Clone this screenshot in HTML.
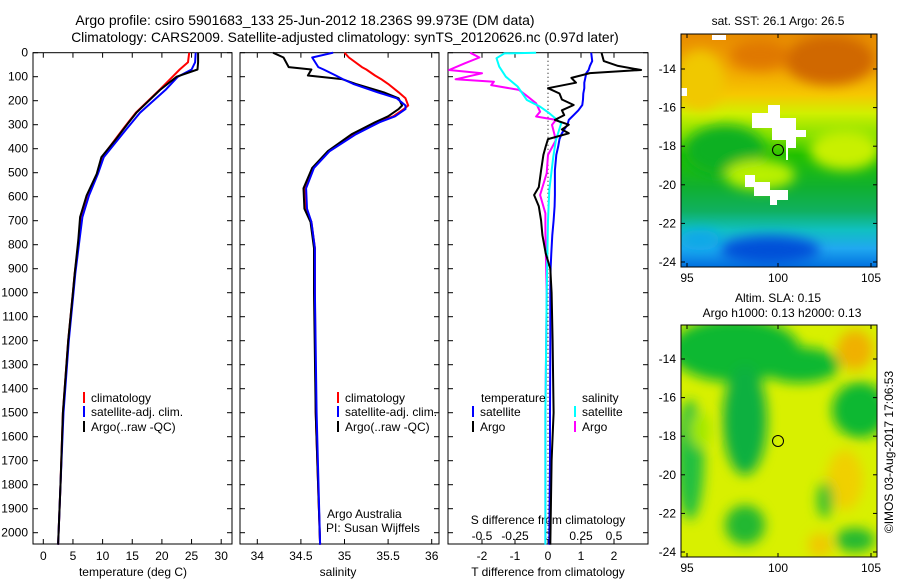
<!DOCTYPE html>
<html><head><meta charset="utf-8"><style>
html,body{margin:0;padding:0;background:#fff}
svg{display:block;font-family:"Liberation Sans",sans-serif;font-size:12px}
</style></head><body>
<svg id="fig" width="900" height="580" viewBox="0 0 900 580">
<defs>
<filter id="blur4" x="-20%" y="-20%" width="140%" height="140%"><feGaussianBlur stdDeviation="6"/></filter>
<clipPath id="c1"><rect x="681" y="34" width="196" height="233"/></clipPath>
<clipPath id="c2"><rect x="681" y="325" width="196" height="232"/></clipPath>
<linearGradient id="sstg" x1="0" y1="0" x2="0" y2="1">
<stop offset="0" stop-color="#e88c00"/><stop offset="0.14" stop-color="#f0a000"/>
<stop offset="0.26" stop-color="#f6c800"/><stop offset="0.34" stop-color="#d0f000"/>
<stop offset="0.44" stop-color="#80e000"/><stop offset="0.52" stop-color="#20c000"/>
<stop offset="0.66" stop-color="#10b030"/><stop offset="0.76" stop-color="#10b060"/>
<stop offset="0.84" stop-color="#10c0c0"/><stop offset="0.92" stop-color="#20a8f0"/>
<stop offset="1" stop-color="#0070e0"/></linearGradient>
</defs>
<g id="titles">
<text x="305" y="25" text-anchor="middle" font-size="14">Argo profile: csiro 5901683_133 25-Jun-2012 18.236S 99.973E (DM data)</text>
<text x="345" y="42" text-anchor="middle" font-size="13.8">Climatology: CARS2009. Satellite-adjusted climatology: synTS_20120626.nc (0.97d later)</text>
</g>
<g id="p1"></g>
<g id="p2"></g>
<g id="p3"></g>

<g id="map1">
<text x="778" y="25" text-anchor="middle">sat. SST: 26.1 Argo: 26.5</text>
<g clip-path="url(#c1)">
<rect x="681" y="34" width="196" height="233" fill="url(#sstg)"/>
<g filter="url(#blur4)">
<ellipse cx="830" cy="60" rx="45" ry="25" fill="#d06800"/>
<ellipse cx="760" cy="55" rx="30" ry="15" fill="#e07800"/>
<ellipse cx="700" cy="80" rx="25" ry="30" fill="#f0c800"/>
<ellipse cx="845" cy="150" rx="35" ry="20" fill="#c8f000"/>
<ellipse cx="725" cy="150" rx="40" ry="25" fill="#10b020"/>
<ellipse cx="760" cy="175" rx="35" ry="15" fill="#b8f000"/>
<ellipse cx="770" cy="250" rx="50" ry="14" fill="#0050d8"/>
<ellipse cx="700" cy="240" rx="20" ry="10" fill="#10a8e8"/>
</g>
<polygon points="752,113 768,113 768,105 780,105 780,118 796,118 796,130 806,130 806,137 796,137 796,148 788,148 788,160 786,160 786,140 772,140 772,128 752,128" fill="#fff"/>
<polygon points="745,175 755,175 755,182 770,182 770,190 788,190 788,200 777,200 777,205 770,205 770,196 754,196 754,187 745,187" fill="#fff"/>
<rect x="681" y="88" width="6" height="8" fill="#fff"/>
<rect x="712" y="35" width="14" height="5" fill="#fff"/>
</g>
<rect x="681" y="34" width="196" height="233" fill="none" stroke="#000"/>
<circle cx="778" cy="150" r="5.5" fill="none" stroke="#000"/>
</g>

<g id="map2">
<text x="778" y="302" text-anchor="middle">Altim. SLA: 0.15</text>
<text x="782" y="317" text-anchor="middle">Argo h1000: 0.13 h2000: 0.13</text>
<g clip-path="url(#c2)">
<rect x="681" y="325" width="196" height="232" fill="#d8f000"/>
<g filter="url(#blur4)">
<ellipse cx="735" cy="350" rx="65" ry="32" fill="#10b830"/>
<ellipse cx="800" cy="365" rx="40" ry="18" fill="#10b830"/>
<ellipse cx="745" cy="420" rx="22" ry="55" fill="#10b040"/>
<ellipse cx="690" cy="460" rx="14" ry="60" fill="#20c040"/>
<ellipse cx="860" cy="410" rx="28" ry="28" fill="#10b830"/>
<ellipse cx="855" cy="350" rx="18" ry="20" fill="#f0b000"/>
<ellipse cx="845" cy="480" rx="18" ry="30" fill="#f0d000"/>
<ellipse cx="825" cy="500" rx="8" ry="18" fill="#30c030"/>
<ellipse cx="745" cy="525" rx="20" ry="20" fill="#20b830"/>
<ellipse cx="855" cy="540" rx="20" ry="12" fill="#20b830"/>
<ellipse cx="700" cy="430" rx="10" ry="18" fill="#a0e800"/>
<ellipse cx="820" cy="545" rx="12" ry="12" fill="#f0c800"/>
</g>
</g>
<rect x="681" y="325" width="196" height="232" fill="none" stroke="#000"/>
<circle cx="778" cy="441" r="5.5" fill="none" stroke="#000"/>
</g>
<text transform="translate(893,452) rotate(-90)" text-anchor="middle">©IMOS 03-Aug-2017 17:06:53</text>
</svg>
<script>
// ---- data ----
const depthTicks=[0,100,200,300,400,500,600,700,800,900,1000,1100,1200,1300,1400,1500,1600,1700,1800,1900,2000];
const tempTicks=[0,5,10,15,20,25,30];
const salTicks=[34,34.5,35,35.5,36];
const tdiffTicks=[-2,-1,0,1,2];
const sdiffTicks=[-0.5,-0.25,0,0.25,0.5];
const sdiffTickLabels=["-0.5","-0.25","0","0.25","0.5"];
const lonTicks=[95,100,105];
const latTicks=[-14,-16,-18,-20,-22,-24];

const argoTD=[0,40,70,100,155,250,310,365,435,505,595,685,780,920,1000,1200,1500,1800,2050];
const argoT=[26.1,26.1,26.0,22.5,19.7,15.7,13.8,12.1,9.8,9.0,7.3,6.2,5.9,5.3,5.0,4.2,3.3,2.9,2.5];
const climTD=[0,40,70,100,150,250,310,365,435,505,595,685,780,920,1000,1200,1500,1800,2050];
const climT=[24.6,24.4,23.0,21.8,19.8,15.6,13.7,12.0,9.9,9.1,7.6,6.5,6.0,5.3,5.0,4.2,3.3,2.9,2.5];
const satT=[25.7,25.6,25.0,22.7,20.6,16.3,14.3,12.5,10.2,9.2,7.7,6.6,6.1,5.4,5.1,4.3,3.4,2.9,2.5];

const argoSD=[0,20,60,70,95,110,130,165,190,220,235,265,290,340,410,480,565,650,705,815,1000,1500,2050];
const argoS=[34.18,34.3,34.36,34.62,34.58,34.97,35.13,35.45,35.62,35.66,35.62,35.5,35.35,35.08,34.81,34.63,34.53,34.54,34.61,34.65,34.65,34.67,34.72];
const climS=[35.0,35.05,35.2,35.25,35.35,35.42,35.5,35.62,35.70,35.73,35.68,35.56,35.37,35.1,34.82,34.64,34.55,34.56,34.62,34.66,34.66,34.67,34.72];
const satS=[34.87,34.63,34.7,34.76,34.9,34.98,35.1,35.38,35.6,35.7,35.7,35.58,35.4,35.13,34.83,34.65,34.56,34.57,34.62,34.66,34.66,34.68,34.72];

const tdD=[0,35,55,72,85,105,125,148,170,195,218,240,260,280,300,320,336,360,391,426,490,560,593,640,700,760,836,900,1000,1200,1500,1700,2050];
const argoTdiff=[1.62,1.69,2.12,2.82,1.27,0.71,0.85,0,0.35,0.42,0.78,0.42,0.49,0.21,0.63,0.42,0.63,0,-0.07,-0.14,-0.21,-0.28,-0.42,-0.28,-0.21,-0.17,-0.07,0.07,0.11,0.14,0.17,0.11,0.07];
const satTdiff=[1.31,1.34,1.27,1.23,1.16,1.13,1.1,1.1,1.07,1.06,1.04,0.92,0.78,0.63,0.59,0.49,0.42,0.35,0.31,0.25,0.21,0.21,0.21,0.2,0.17,0.13,0.1,0.08,0.07,0.07,0.06,0.06,0.04];
const sdD=[0,3,23,58,100,141,197,225,252,294,364,433,572,700,1000,1500,2050];
const satSdiff=[-0.09,-0.33,-0.39,-0.37,-0.32,-0.23,-0.16,-0.06,0.01,0.1,0.06,0.04,0.01,0,-0.01,-0.02,-0.02];
const argoSdD=[0,20,44,72,86,111,121,135,155,176,211,246,266,280,301,364,426,502,593,669,752,1000,1500,2050];
const argoSdiff=[-0.59,-0.52,-0.63,-0.75,-0.5,-0.7,-0.41,-0.43,-0.22,-0.17,-0.09,-0.06,-0.09,0.06,0.03,0.06,0,-0.01,-0.06,-0.02,-0.02,-0.01,-0.02,-0.02];

// ---- axes ----
const Y0=52.7,YB=544;
const yD=d=>Y0+0.24*d;
const xT=t=>43.3+t*5.93;
const xS=s=>257.3+(s-34)*87.2;
const xTd=v=>548+v*33;
const xSd=v=>548+v*132;
const NS='http://www.w3.org/2000/svg';
function el(tag,attrs,parent,text){const e=document.createElementNS(NS,tag);for(const k in attrs)e.setAttribute(k,attrs[k]);if(text!=null)e.textContent=text;parent.appendChild(e);return e;}
function frame(g,x0,x1){
  el('rect',{x:x0,y:Y0,width:x1-x0,height:YB-Y0,fill:'none',stroke:'#000'},g);
  depthTicks.forEach(d=>{const y=yD(d);el('line',{x1:x0,x2:x0+5,y1:y,y2:y,stroke:'#000'},g);el('line',{x1:x1-5,x2:x1,y1:y,y2:y,stroke:'#000'},g);});
}
function xticks(g,vals,labels,fx,ly){
  vals.forEach((v,i)=>{const x=fx(v);el('line',{x1:x,x2:x,y1:Y0,y2:Y0+5,stroke:'#000'},g);el('line',{x1:x,x2:x,y1:YB-5,y2:YB,stroke:'#000'},g);
    const t=el('text',{x:x,y:ly,'text-anchor':'middle'},g,labels[i]);
    
    });
}
function line(g,ds,vs,fx,color,w,name){
  const p=el('polyline',{points:ds.map((d,i)=>fx(vs[i]).toFixed(1)+','+yD(d).toFixed(1)).join(' '),fill:'none',stroke:color,'stroke-width':w,'stroke-linejoin':'round'},g);
  
  
}
function legend(g,x,y,color,label){
  el('line',{x1:x,x2:x,y1:y-10,y2:y+1,stroke:color,'stroke-width':2},g);
  const t=el('text',{x:x+7,y:y},g,label);
  
  
}
// panel 1
const p1=document.getElementById('p1');
frame(p1,33,232);
depthTicks.forEach(d=>{const t=el('text',{x:28,y:yD(d)+4,'text-anchor':'end'},p1,String(d));
  
  });
xticks(p1,tempTicks,tempTicks.map(String),xT,560);
el('text',{x:133,y:576,'text-anchor':'middle',},p1,'temperature (deg C)');
line(p1,climTD,climT,xT,'#f00',2,'climatology-temperature-line');
line(p1,argoTD,satT,xT,'#00f',2,'satellite-temperature-line');
line(p1,argoTD,argoT,xT,'#000',2,'argo-temperature-line');
legend(p1,84,402,'#f00','climatology');legend(p1,84,416,'#00f','satellite-adj. clim.');legend(p1,84,431,'#000','Argo(..raw -QC)');
// panel 2
const p2=document.getElementById('p2');
frame(p2,240,439);
xticks(p2,salTicks,salTicks.map(String),xS,560);
el('text',{x:338,y:576,'text-anchor':'middle',},p2,'salinity');
line(p2,argoSD,climS,xS,'#f00',2,'climatology-salinity-line');
line(p2,argoSD,argoS,xS,'#000',2,'argo-salinity-line');
line(p2,argoSD,satS,xS,'#00f',2,'satellite-salinity-line');
legend(p2,338,402,'#f00','climatology');legend(p2,338,416,'#00f','satellite-adj. clim.');legend(p2,338,431,'#000','Argo(..raw -QC)');
el('text',{x:327,y:518,},p2,'Argo Australia');
el('text',{x:326,y:532,},p2,'PI: Susan Wijffels');
// panel 3
const p3=document.getElementById('p3');
frame(p3,448,648);
el('line',{x1:548,x2:548,y1:Y0,y2:YB,stroke:'#000','stroke-dasharray':'1,3'},p3);
tdiffTicks.forEach(v=>{const x=xTd(v);el('line',{x1:x,x2:x,y1:YB-5,y2:YB,stroke:'#000'},p3);el('line',{x1:x,x2:x,y1:Y0,y2:Y0+5,stroke:'#000'},p3);
  const t=el('text',{x:x,y:560,'text-anchor':'middle'},p3,String(v));
  
  });
sdiffTicks.forEach((v,i)=>{const t=el('text',{x:xSd(v),y:540,'text-anchor':'middle'},p3,sdiffTickLabels[i]);
  
  });
el('text',{x:548,y:524,'text-anchor':'middle',},p3,'S difference from climatology');
el('text',{x:548,y:576,'text-anchor':'middle',},p3,'T difference from climatology');
line(p3,argoSdD,argoSdiff,xSd,'#f0f',2,'argo-salinity-diff-line');
line(p3,sdD,satSdiff,xSd,'#0ff',2,'satellite-salinity-diff-line');
line(p3,tdD,satTdiff,xTd,'#00f',2,'satellite-temperature-diff-line');
line(p3,tdD,argoTdiff,xTd,'#000',2,'argo-temperature-diff-line');
el('text',{x:481,y:402,},p3,'temperature');
el('text',{x:582,y:402,},p3,'salinity');
legend(p3,473,416,'#00f','satellite');legend(p3,473,431,'#000','Argo');
legend(p3,575,416,'#0ff','satellite');legend(p3,575,431,'#f0f','Argo');
// maps axes
function mapAxes(id,top,bot,latY){
  const g=document.getElementById(id);
  lonTicks.forEach((v,i)=>{const x=[687,778,871][i];el('line',{x1:x,x2:x,y1:top,y2:top+4,stroke:'#000'},g);el('line',{x1:x,x2:x,y1:bot-4,y2:bot,stroke:'#000'},g);
    const t=el('text',{x:x,y:bot+15,'text-anchor':'middle'},g,String(v));
    
    });
  latTicks.forEach((v,i)=>{const y=latY(v);el('line',{x1:681,x2:685,y1:y,y2:y,stroke:'#000'},g);el('line',{x1:873,x2:877,y1:y,y2:y,stroke:'#000'},g);
    const t=el('text',{x:676,y:y+4,'text-anchor':'end'},g,String(v));
    
    });
}
mapAxes('map1',34,267,v=>69+(-14-v)*19.3);
mapAxes('map2',325,557,v=>359+(-14-v)*19.3);
</script>
</body></html>
